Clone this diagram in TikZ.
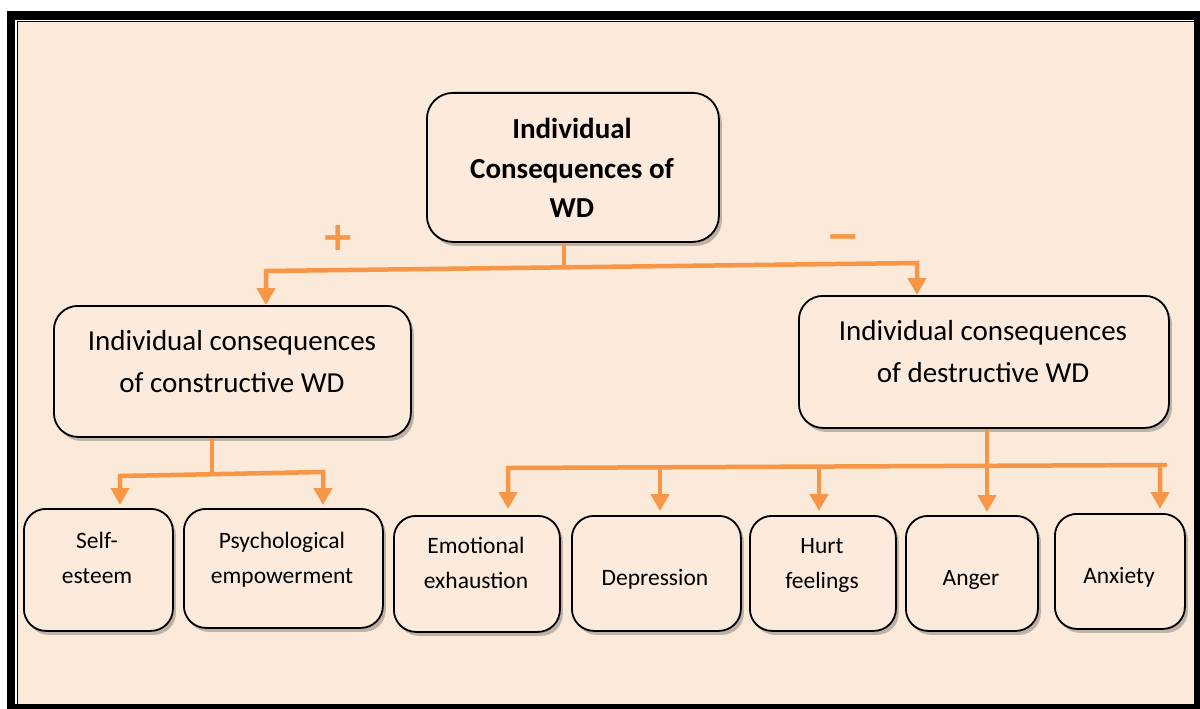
\documentclass[tikz,border=0pt]{standalone}
\usepackage{fontspec}
\setmainfont{Carlito}
\newfontfamily\signfont{DejaVu Sans}
\usetikzlibrary{arrows.meta,shadows}
\definecolor{bgpeach}{HTML}{FBE9DA}
\definecolor{boxfill}{HTML}{FCEADC}
\definecolor{wdorange}{HTML}{F79646}
\newcommand{\boxlines}[1]{\begin{tabular}[t]{@{}c@{}}#1\end{tabular}}
\begin{document}
\begin{tikzpicture}[x=1pt,y=-1pt,
  box/.style={draw=black, line width=1.8pt, fill=boxfill, rounded corners=#1,
    anchor=north west, inner sep=0pt,
    drop shadow={shadow xshift=3pt, shadow yshift=-4pt, opacity=0.3, fill=black!80}},
  box/.default=24pt,
  txt/.style={anchor=base, inner sep=0pt, text=black},
  bigtxt/.style={txt, font=\fontsize{29}{42}\selectfont},
  smalltxt/.style={txt, font=\fontsize{23.5}{35}\selectfont},
  conn/.style={draw=wdorange, line width=4.5pt},
  tip/.tip={Triangle[width=18pt,length=17pt]},
  sign/.style={anchor=base, inner sep=0pt, text=wdorange, font=\signfont\bfseries\fontsize{40}{40}\selectfont}
]
% frame and background
\useasboundingbox (0,0) rectangle (1200,709);
\fill[white] (0,0) rectangle (1200,709);
\fill[black] (7,11) rectangle (1200,709);
\fill[white] (15,20) rectangle (1194,704);
\fill[black] (16.5,21.2) rectangle (1194,704);
\fill[bgpeach] (18,22.5) rectangle (1194,704);

% boxes
\node[box=26pt, minimum width=292pt, minimum height=149pt] (top) at (426,92) {};
\node[box, minimum width=357pt, minimum height=131pt] (cons) at (53,305) {};
\node[box, minimum width=370pt, minimum height=132pt] (dest) at (798,295) {};
\node[box=22pt, minimum width=149pt, minimum height=122pt] (se) at (23,508) {};
\node[box=22pt, minimum width=199pt, minimum height=119pt] (pe) at (183,508) {};
\node[box=22pt, minimum width=166pt, minimum height=116pt] (ee) at (393,515) {};
\node[box=22pt, minimum width=169pt, minimum height=115pt] (dep) at (571,515) {};
\node[box=22pt, minimum width=146pt, minimum height=115pt] (hf) at (749,515) {};
\node[box=22pt, minimum width=132pt, minimum height=115pt] (ang) at (905,515) {};
\node[box=22pt, minimum width=130pt, minimum height=115pt] (anx) at (1054,513) {};

% texts
\node[bigtxt, font=\bfseries\fontsize{29}{40}\selectfont] (ttop) at (572,138) {\boxlines{Individual\\Consequences of\\WD}};
\node[bigtxt] (tcons) at (232,350) {\boxlines{Individual consequences\\of constructive WD}};
\node[bigtxt] (tdest) at (983,340) {\boxlines{Individual consequences\\of destructive WD}};
\node[smalltxt] (tse) at (97,548) {\boxlines{Self-\\esteem}};
\node[smalltxt] (tpe) at (282,548) {\boxlines{Psychological\\empowerment}};
\node[smalltxt] (tee) at (476,553) {\boxlines{Emotional\\exhaustion}};
\node[smalltxt] (tdep) at (655,585) {Depression};
\node[smalltxt] (thf) at (822,553) {\boxlines{Hurt\\feelings}};
\node[smalltxt] (tang) at (971,585) {Anger};
\node[smalltxt] (tanx) at (1119,583) {Anxiety};

% signs
\node[sign] (plus) at (338,250) {+};
\node[sign] (minus) at (843,249) {−};

% connectors: top level
\coordinate (j1) at (564,266);
\coordinate (h1L) at (266,271);
\coordinate (h1R) at (917,263);
\draw[conn] (top.south -| j1) -- (j1);
\draw[conn, tip-tip, line join=miter] (h1L |- cons.north) -- (h1L) -- (h1R) -- (h1R |- dest.north);

% connectors: constructive
\coordinate (j2) at (212,475);
\coordinate (h2L) at (120,476);
\coordinate (h2R) at (323,472);
\draw[conn] (cons.south -| j2) -- (j2);
\draw[conn, tip-tip, line join=miter, shorten <=3pt, shorten >=3pt] (h2L |- se.north) -- (h2L) -- (h2R) -- (h2R |- pe.north);

% connectors: destructive
\coordinate (h3L) at (508,468);
\coordinate (h3R) at (1160,465);
\coordinate (h3E) at (1167,465);
\coordinate (a3) at (660,467);
\coordinate (b3) at (819,466);
\coordinate (c3) at (987,466);
\draw[conn, tip-tip, line join=miter, shorten <=6pt, shorten >=4pt] (h3L |- ee.north) -- (h3L) -- (h3R) -- (h3R |- anx.north);
\draw[conn] (h3R) -- (h3E);
\draw[conn, -tip, shorten >=4pt] (a3) -- (a3 |- dep.north);
\draw[conn, -tip, shorten >=4pt] (b3) -- (b3 |- hf.north);
\draw[conn, -tip, shorten >=3pt] (dest.south -| c3) -- (c3 |- ang.north);
\end{tikzpicture}
\end{document}
